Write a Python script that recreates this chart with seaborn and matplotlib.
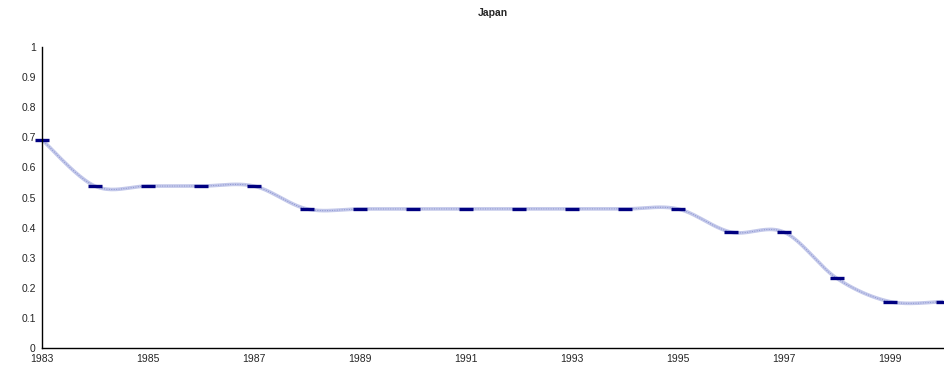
import numpy as np
import pandas as pd
import matplotlib
matplotlib.use("Agg")
import matplotlib.pyplot as plt
import seaborn as sns

years = [1983, 1984, 1985, 1986, 1987, 1988, 1989, 1990, 1991,
         1992, 1993, 1994, 1995, 1996, 1997, 1998, 1999, 2000]
values = [0.692, 0.538, 0.538, 0.538, 0.538, 0.462, 0.462, 0.462, 0.462,
          0.462, 0.462, 0.462, 0.462, 0.385, 0.385, 0.231, 0.154, 0.154]
x_ticks = [1983, 1985, 1987, 1989, 1991, 1993, 1995, 1997, 1999]
y_ticks = [0, 0.1, 0.2, 0.3, 0.4, 0.5, 0.6, 0.7, 0.8, 0.9, 1]
y_labels = ["0", "0.1", "0.2", "0.3", "0.4", "0.5", "0.6", "0.7", "0.8", "0.9", "1"]

data = pd.DataFrame({"year": years, "value": values})


def smooth(xs, ys, n=24):
    # Excel style smoothed line (bezier segments, catmull-rom control points)
    xs = np.asarray(xs, float)
    ys = np.asarray(ys, float)
    px = np.concatenate([[xs[0]], xs, [xs[-1]]])
    py = np.concatenate([[ys[0]], ys, [ys[-1]]])
    out_x, out_y = [], []
    t = np.linspace(0, 1, n)
    for i in range(1, len(px) - 2):
        p0x, p0y = px[i], py[i]
        p3x, p3y = px[i + 1], py[i + 1]
        p1x = p0x + (px[i + 1] - px[i - 1]) / 6
        p1y = p0y + (py[i + 1] - py[i - 1]) / 6
        p2x = p3x - (px[i + 2] - px[i]) / 6
        p2y = p3y - (py[i + 2] - py[i]) / 6
        a = (1 - t) ** 3
        b = 3 * (1 - t) ** 2 * t
        c = 3 * (1 - t) * t ** 2
        d = t ** 3
        out_x.extend(a * p0x + b * p1x + c * p2x + d * p3x)
        out_y.extend(a * p0y + b * p1y + c * p2y + d * p3y)
    return pd.DataFrame({"year": out_x, "value": out_y})


curve = smooth(data["year"], data["value"])

sns.set_style("white")
plt.rcParams["font.family"] = ["Liberation Sans", "DejaVu Sans"]

fig = plt.figure(figsize=(9.45, 3.73), dpi=100)
ax = fig.add_axes([0.0444, 0.067, 0.9535, 0.807])

sns.lineplot(data=curve, x="year", y="value", ax=ax, color="#c3c8ea",
             linewidth=2.6, sort=False, estimator=None)
sns.lineplot(data=curve, x="year", y="value", ax=ax, color="#8a93cf",
             linewidth=0.7, linestyle=(0, (1, 1.5)), sort=False, estimator=None)
ax.plot(data["year"], data["value"], linestyle="none", marker="_",
        markersize=10, markeredgewidth=2.4, color="#000080", clip_on=False)

ax.set_xlim(1983, 2000)
ax.set_ylim(0, 1)
ax.set_xticks(x_ticks)
ax.set_xticklabels([str(v) for v in x_ticks])
ax.set_yticks(y_ticks)
ax.set_yticklabels(y_labels)
ax.tick_params(axis="both", labelsize=7.5, length=3, width=0.8, color="black",
               direction="out", pad=1.5)
ax.set_xlabel("")
ax.set_ylabel("")
ax.set_title("Japan", fontsize=7.5, fontweight="bold", pad=22)

sns.despine(ax=ax)
for side in ["left", "bottom"]:
    ax.spines[side].set_color("black")
    ax.spines[side].set_linewidth(1.0)

fig.savefig("out.png", dpi=100)
